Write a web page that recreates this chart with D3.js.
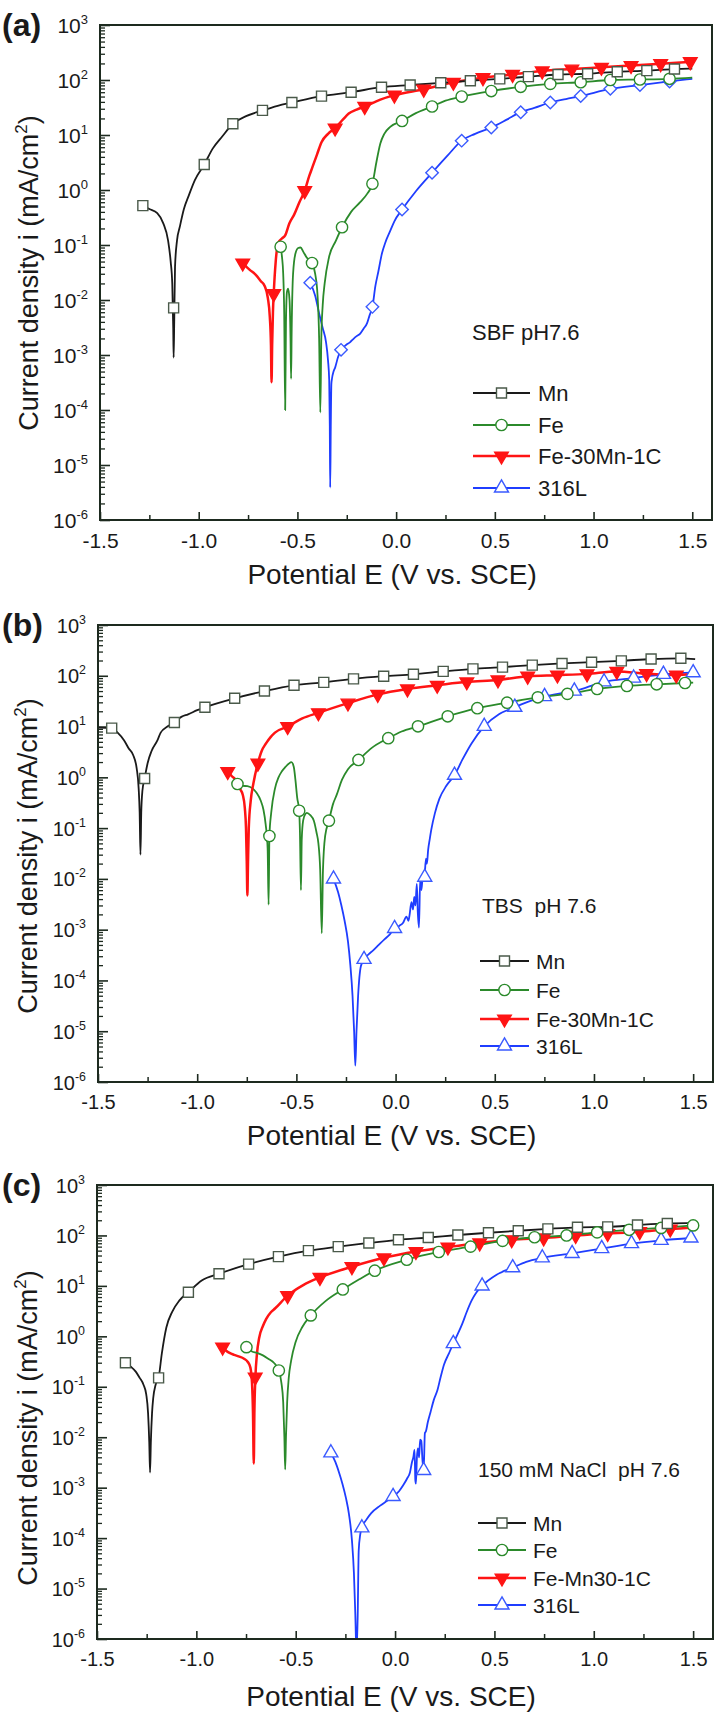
<!DOCTYPE html>
<html><head><meta charset="utf-8">
<script src="https://cdn.jsdelivr.net/npm/d3@7"></script>
<style>
body{margin:0;background:#fff}
svg{display:block}
text{font-family:"Liberation Sans",Arial,Helvetica,sans-serif;fill:#1a1a1a}
</style>
</head><body>
<svg id="chart" width="716" height="1715"></svg>
<script>
// ---------- shared tick data ----------
const xTicks = [-1.5, -1.0, -0.5, 0.0, 0.5, 1.0, 1.5];
const xTickLabels = ["-1.5", "-1.0", "-0.5", "0.0", "0.5", "1.0", "1.5"];
const xMinorTicks = [-1.25, -0.75, -0.25, 0.25, 0.75, 1.25];
const yExponents = [3, 2, 1, 0, -1, -2, -3, -4, -5, -6];
const seriesNames = ["Mn", "Fe", "Fe-30Mn-1C", "316L"];
const seriesNamesC = ["Mn", "Fe", "Fe-Mn30-1C", "316L"];
const panelLabels = ["(a)", "(b)", "(c)"];
const mediumLabels = ["SBF pH7.6", "TBS  pH 7.6", "150 mM NaCl  pH 7.6"];
const xTitle = "Potential E (V vs. SCE)";

// ---------- panel (a) SBF ----------
const aMnLine = [[-1.283,0.52],[-1.25,0.45],[-1.21,0.38],[-1.18,0.25],[-1.155,0.12],[-1.142,0.05],[-1.134,0.02],[-1.129,0.003],[-1.127,9e-4],[-1.124,0.004],[-1.12,0.04],[-1.11,0.12],[-1.095,0.22],[-1.075,0.45],[-1.05,0.8],[-1.02,1.5],[-0.972,2.9],[-0.93,5.6],[-0.88,9.5],[-0.827,16],[-0.76,22],[-0.677,28],[-0.6,34],[-0.528,39],[-0.378,51],[-0.228,60],[-0.074,74],[0.071,81],[0.226,89],[0.376,97],[0.525,105],[0.67,115],[0.82,126],[0.97,130],[1.12,141],[1.27,148],[1.41,158],[1.5,162]];
const aMnMarkE = [-1.283,-1.127,-0.972,-0.827,-0.677,-0.528,-0.378,-0.228,-0.074,0.071,0.226,0.376,0.525,0.67,0.82,0.97,1.12,1.27,1.41];
const aMnMarkI = [0.52,0.0072,2.9,16,28,39,51,60,74,81,89,97,105,115,126,130,141,148,158];

const aFeLine = [[-0.585,0.093],[-0.578,0.06],[-0.572,0.03],[-0.567,0.006],[-0.562,1e-4],[-0.558,0.004],[-0.553,0.014],[-0.547,0.016],[-0.54,0.01],[-0.535,0.002],[-0.532,3.7e-4],[-0.529,0.003],[-0.522,0.03],[-0.51,0.07],[-0.496,0.088],[-0.484,0.09],[-0.47,0.075],[-0.454,0.06],[-0.426,0.047],[-0.41,0.03],[-0.398,0.012],[-0.39,0.002],[-0.384,9e-5],[-0.379,0.002],[-0.372,0.008],[-0.362,0.02],[-0.34,0.06],[-0.305,0.12],[-0.274,0.21],[-0.228,0.4],[-0.182,0.6],[-0.147,0.85],[-0.12,1.3],[-0.1,3.2],[-0.08,7],[-0.06,10.5],[-0.03,14],[0.03,18],[0.1,25],[0.182,33],[0.25,42],[0.332,50],[0.482,63],[0.631,75],[0.781,85],[0.935,91],[1.085,100],[1.235,102],[1.385,105],[1.5,110]];
const aFeMarkE = [-0.585,-0.426,-0.274,-0.12,0.03,0.182,0.332,0.482,0.631,0.781,0.935,1.085,1.235,1.385];
const aFeMarkI = [0.093,0.047,0.21,1.3,18,33,50,63,75,85,91,100,102,105];

const aAlloyLine = [[-0.777,0.047],[-0.74,0.035],[-0.712,0.029],[-0.685,0.022],[-0.666,0.018],[-0.65,0.011],[-0.64,0.005],[-0.634,0.0015],[-0.631,3.2e-4],[-0.628,0.0015],[-0.624,0.006],[-0.62,0.013],[-0.61,0.05],[-0.597,0.11],[-0.58,0.13],[-0.562,0.15],[-0.54,0.25],[-0.516,0.36],[-0.49,0.6],[-0.463,0.97],[-0.44,1.8],[-0.424,2.6],[-0.4,4.5],[-0.378,7.4],[-0.345,10.5],[-0.309,13.4],[-0.27,19],[-0.24,24.5],[-0.2,29],[-0.159,33],[-0.08,44],[-0.009,53],[0.14,68],[0.29,91],[0.44,110],[0.59,126],[0.74,146],[0.89,158],[1.04,170],[1.19,183],[1.34,198],[1.5,215]];
const aAlloyMarkE = [-0.777,-0.62,-0.463,-0.309,-0.159,-0.009,0.14,0.29,0.44,0.59,0.74,0.89,1.04,1.19,1.34,1.49];
const aAlloyMarkI = [0.047,0.013,0.97,13.4,33,53,68,91,110,126,146,158,170,183,198,215];

const aSSLine = [[-0.435,0.0205],[-0.41,0.012],[-0.389,0.0055],[-0.372,0.0031],[-0.355,0.0017],[-0.345,8e-4],[-0.339,3.5e-4],[-0.336,5e-5],[-0.334,3.9e-6],[-0.331,5e-5],[-0.328,3e-4],[-0.325,3.7e-4],[-0.317,5e-4],[-0.309,5.9e-4],[-0.295,9e-4],[-0.279,0.00124],[-0.265,0.0014],[-0.251,0.00155],[-0.234,0.0017],[-0.217,0.00195],[-0.2,0.0022],[-0.182,0.00245],[-0.165,0.003],[-0.147,0.0038],[-0.135,0.0052],[-0.12,0.0075],[-0.105,0.018],[-0.09,0.033],[-0.072,0.07],[-0.055,0.11],[-0.03,0.18],[-0.009,0.27],[0.03,0.44],[0.1,0.95],[0.182,2.06],[0.26,4.2],[0.332,7.9],[0.4,10.5],[0.482,13.7],[0.56,19],[0.631,26],[0.7,31],[0.781,39],[0.86,45],[0.935,51],[1.085,69],[1.235,81],[1.385,94],[1.5,105]];
const aSSMarkE = [-0.435,-0.279,-0.12,0.03,0.182,0.332,0.482,0.631,0.781,0.935,1.085,1.235,1.385];
const aSSMarkI = [0.0205,0.00124,0.0075,0.44,2.06,7.9,13.7,26,39,51,69,81,94];

// ---------- panel (b) TBS ----------
const bMnLine = [[-1.5,9.5],[-1.431,9.3],[-1.4,7.5],[-1.369,5.4],[-1.345,3.7],[-1.323,2.75],[-1.305,1.5],[-1.295,0.6],[-1.29,0.2],[-1.286,0.03],[-1.282,0.2],[-1.276,0.55],[-1.265,0.95],[-1.25,1.9],[-1.23,3.3],[-1.2,5.4],[-1.184,7.6],[-1.15,10],[-1.115,12],[-1.08,15.5],[-1.046,17.4],[-1.0,21],[-0.961,24],[-0.811,36],[-0.661,50],[-0.512,65],[-0.362,74],[-0.212,87],[-0.06,98],[0.09,107],[0.24,122],[0.39,137],[0.539,148],[0.689,162],[0.839,175],[0.988,185],[1.138,197],[1.288,214],[1.438,221],[1.51,212]];
const bMnMarkE = [-1.431,-1.265,-1.115,-0.961,-0.811,-0.661,-0.512,-0.362,-0.212,-0.06,0.09,0.24,0.39,0.539,0.689,0.839,0.988,1.138,1.288,1.438];
const bMnMarkI = [9.3,0.95,12,24,36,50,65,74,87,98,107,122,137,148,162,175,185,197,214,221];

const bFeLine = [[-0.797,0.74],[-0.77,0.68],[-0.747,0.67],[-0.72,0.6],[-0.7,0.49],[-0.68,0.35],[-0.666,0.23],[-0.655,0.12],[-0.645,0.04],[-0.64,0.0031],[-0.636,0.07],[-0.627,0.2],[-0.608,0.6],[-0.59,1.0],[-0.574,1.3],[-0.555,1.6],[-0.539,1.85],[-0.525,2.0],[-0.513,1.6],[-0.505,0.9],[-0.496,0.4],[-0.486,0.22],[-0.482,0.08],[-0.477,0.006],[-0.473,0.06],[-0.466,0.14],[-0.455,0.19],[-0.447,0.2],[-0.43,0.18],[-0.412,0.14],[-0.398,0.08],[-0.389,0.05],[-0.38,0.015],[-0.372,8.5e-4],[-0.366,0.015],[-0.355,0.07],[-0.336,0.14],[-0.315,0.3],[-0.297,0.45],[-0.27,0.9],[-0.24,1.45],[-0.187,2.2],[-0.12,3.8],[-0.037,5.9],[0.03,8],[0.113,10.1],[0.263,15.9],[0.412,23],[0.562,29.5],[0.717,37.6],[0.866,44],[1.016,55],[1.166,63],[1.316,68],[1.459,72],[1.5,73]];
const bFeMarkE = [-0.797,-0.636,-0.486,-0.336,-0.187,-0.037,0.113,0.263,0.412,0.562,0.717,0.866,1.016,1.166,1.316,1.459];
const bFeMarkI = [0.74,0.07,0.22,0.14,2.2,5.9,10.1,15.9,23,29.5,37.6,44,55,63,68,72];

const bAlloyLine = [[-0.846,1.3],[-0.825,1.05],[-0.804,0.87],[-0.785,0.6],[-0.77,0.45],[-0.76,0.25],[-0.754,0.1],[-0.75,0.02],[-0.747,0.0047],[-0.744,0.02],[-0.74,0.1],[-0.73,0.35],[-0.717,0.75],[-0.694,1.9],[-0.675,3.3],[-0.654,4.6],[-0.63,6.2],[-0.608,7.6],[-0.544,10],[-0.47,14.5],[-0.389,18.7],[-0.24,29],[-0.09,43],[0.06,55],[0.21,65],[0.359,76],[0.516,83],[0.666,98],[0.816,103],[0.965,109],[1.115,122],[1.265,110],[1.415,103],[1.488,108]];
const bAlloyMarkE = [-0.846,-0.694,-0.544,-0.389,-0.24,-0.09,0.06,0.21,0.359,0.516,0.666,0.816,0.965,1.115,1.265,1.415];
const bAlloyMarkI = [1.3,1.9,10,18.7,29,43,55,65,76,83,98,103,109,122,110,103];

const bSSLine = [[-0.313,0.01],[-0.29,0.0055],[-0.274,0.0031],[-0.257,0.0015],[-0.24,5.9e-4],[-0.228,2e-4],[-0.217,5e-5],[-0.209,1e-5],[-0.203,2.1e-6],[-0.197,1e-5],[-0.189,4.9e-5],[-0.175,1.9e-4],[-0.159,2.6e-4],[-0.135,3.3e-4],[-0.113,3.9e-4],[-0.085,5e-4],[-0.055,6.5e-4],[-0.03,8e-4],[-0.005,0.00106],[0.02,0.0012],[0.037,0.00135],[0.055,0.0018],[0.065,0.0015],[0.071,0.002],[0.08,0.0035],[0.088,0.0025],[0.094,0.0044],[0.1,0.003],[0.107,0.008],[0.112,0.0022],[0.118,0.0011],[0.124,0.01],[0.13,0.006],[0.137,0.0108],[0.145,0.0102],[0.153,0.025],[0.158,0.02],[0.164,0.037],[0.172,0.06],[0.18,0.093],[0.198,0.195],[0.221,0.38],[0.256,0.68],[0.297,1.1],[0.336,2.2],[0.382,4.6],[0.447,10.1],[0.521,17.4],[0.601,24],[0.68,32],[0.751,39],[0.83,45],[0.901,50],[1.051,76],[1.2,90],[1.35,107],[1.5,115]];
const bSSMarkE = [-0.313,-0.159,-0.005,0.147,0.297,0.447,0.601,0.751,0.901,1.051,1.2,1.35,1.5];
const bSSMarkI = [0.01,2.6e-4,0.00106,0.0108,1.1,10.1,24,39,50,76,90,107,115];

// ---------- panel (c) 150 mM NaCl ----------
const cMnLine = [[-1.357,0.3],[-1.33,0.25],[-1.305,0.2],[-1.285,0.15],[-1.266,0.11],[-1.252,0.07],[-1.243,0.03],[-1.237,0.008],[-1.233,0.002],[-1.229,0.008],[-1.223,0.03],[-1.217,0.06],[-1.205,0.11],[-1.19,0.15],[-1.174,0.45],[-1.151,1.5],[-1.121,3.1],[-1.086,5.1],[-1.04,7.5],[-0.971,12.9],[-0.886,17.4],[-0.737,27],[-0.587,38],[-0.436,50],[-0.286,60],[-0.132,71],[0.017,82],[0.167,91],[0.316,102],[0.47,113],[0.62,124],[0.769,135],[0.918,145],[1.07,148],[1.22,161],[1.37,173],[1.51,178]];
const cMnMarkE = [-1.357,-1.19,-1.04,-0.886,-0.737,-0.587,-0.436,-0.286,-0.132,0.017,0.167,0.316,0.47,0.62,0.769,0.918,1.07,1.22,1.37];
const cMnMarkI = [0.3,0.15,7.5,17.4,27,38,50,60,71,82,91,102,113,124,135,145,148,161,173];

const cFeLine = [[-0.748,0.61],[-0.72,0.5],[-0.695,0.47],[-0.665,0.42],[-0.638,0.36],[-0.61,0.3],[-0.585,0.21],[-0.572,0.12],[-0.563,0.05],[-0.557,0.01],[-0.553,0.0023],[-0.549,0.01],[-0.543,0.05],[-0.535,0.15],[-0.523,0.33],[-0.5,0.78],[-0.466,1.55],[-0.424,2.6],[-0.35,5],[-0.263,8.5],[-0.18,13.5],[-0.102,20],[0.059,33],[0.22,47],[0.38,60],[0.541,78],[0.702,92],[0.863,100],[1.017,115],[1.178,129],[1.339,141],[1.5,158]];
const cFeMarkE = [-0.748,-0.585,-0.424,-0.263,-0.102,0.059,0.22,0.38,0.541,0.702,0.863,1.017,1.178,1.339,1.5];
const cFeMarkI = [0.61,0.21,2.6,8.5,20,33,47,60,78,92,100,115,129,141,158];

const cAlloyLine = [[-0.868,0.61],[-0.85,0.52],[-0.833,0.47],[-0.81,0.43],[-0.787,0.4],[-0.76,0.36],[-0.741,0.31],[-0.728,0.24],[-0.72,0.12],[-0.715,0.03],[-0.711,0.003],[-0.708,0.03],[-0.703,0.15],[-0.695,0.45],[-0.684,0.93],[-0.665,1.6],[-0.649,2.2],[-0.625,3.0],[-0.603,3.6],[-0.541,6.4],[-0.46,10.5],[-0.378,14.7],[-0.217,24],[-0.056,36],[0.105,48],[0.266,59],[0.426,71],[0.587,82],[0.748,89],[0.909,100],[1.07,109],[1.231,119],[1.385,134],[1.5,142]];
const cAlloyMarkE = [-0.868,-0.704,-0.541,-0.378,-0.217,-0.056,0.105,0.266,0.426,0.587,0.748,0.909,1.07,1.231,1.385];
const cAlloyMarkI = [0.61,0.155,6.4,14.7,24,36,48,59,71,82,89,100,109,119,134];

const cSSLine = [[-0.323,0.0049],[-0.3,0.0032],[-0.282,0.002],[-0.265,0.0012],[-0.247,6.2e-4],[-0.232,3e-4],[-0.217,9e-5],[-0.207,2e-5],[-0.2,3e-6],[-0.194,5e-7],[-0.188,3e-6],[-0.183,5.6e-5],[-0.175,1.2e-4],[-0.167,1.6e-4],[-0.145,2.3e-4],[-0.121,3.1e-4],[-0.075,4.4e-4],[-0.04,5.5e-4],[-0.01,6.7e-4],[0.02,8.5e-4],[0.04,0.0011],[0.06,0.0015],[0.075,0.002],[0.085,0.0032],[0.092,0.004],[0.098,0.0056],[0.102,0.0014],[0.105,0.0012],[0.11,0.004],[0.115,0.006],[0.121,0.004],[0.126,0.009],[0.132,0.0085],[0.138,0.0035],[0.144,0.0022],[0.15,0.012],[0.155,0.013],[0.165,0.02],[0.178,0.031],[0.195,0.055],[0.213,0.085],[0.23,0.16],[0.247,0.28],[0.27,0.45],[0.293,0.72],[0.315,1.1],[0.339,1.8],[0.36,3.0],[0.385,5.1],[0.41,7.5],[0.438,10],[0.511,16.6],[0.592,23],[0.66,30],[0.741,36],[0.891,44],[1.04,55],[1.19,69],[1.339,80],[1.489,89]];
const cSSMarkE = [-0.323,-0.167,-0.01,0.144,0.293,0.438,0.592,0.741,0.891,1.04,1.19,1.339,1.489];
const cSSMarkI = [0.0049,1.6e-4,6.7e-4,0.0022,0.72,10,23,36,44,55,69,80,89];

// ---------- drawing ----------
const svg = d3.select("#chart");
const FONT = '"Liberation Sans",Arial,Helvetica,sans-serif';
const AXIS_COLOR = "#1d2a1f";

const styles = {
  Mn:    {color:"#1a1a1a", mstroke:"#4a5a4a", fill:"#fff", sym:d3.symbolSquare, size:100, rot:0, width:1.8},
  Fe:    {color:"#2b8a2b", mstroke:"#2b8a2b", fill:"#fff", sym:d3.symbolCircle, size:100, rot:0, width:1.8},
  Alloy: {color:"#ff1414", mstroke:"#ff1414", fill:"#ff1414", sym:d3.symbolTriangle, size:80, rot:180, width:2.5},
  SS:    {color:"#1f3dff", mstroke:"#3a5aff", fill:"#fff", sym:d3.symbolTriangle, size:85, rot:0, width:1.8},
  SSd:   {color:"#1f3dff", mstroke:"#3a5aff", fill:"#fff", sym:d3.symbolSquare, size:78, rot:45, width:1.8}
};

function drawPanel(cfg) {
  const g = svg.append("g");
  const x = d3.scaleLinear().domain([-1.5, 1.6]).range([cfg.left, cfg.right]);
  const y = d3.scaleLog().domain([1e-6, 1e3]).range([cfg.bottom, cfg.top]);

  const clipId = "clip" + cfg.id;
  svg.append("clipPath").attr("id", clipId).append("rect")
    .attr("x", cfg.left).attr("y", cfg.top)
    .attr("width", cfg.right - cfg.left).attr("height", cfg.bottom - cfg.top);

  const minorY = [];
  for (let e = -6; e < 3; e++) for (let m = 2; m <= 9; m++) minorY.push(m * Math.pow(10, e));
  g.append("g").attr("transform", `translate(${cfg.left},0)`)
    .call(d3.axisLeft(y).tickValues(minorY).tickSize(-5).tickFormat(""))
    .call(s => { s.select(".domain").remove(); s.selectAll("line").attr("stroke", AXIS_COLOR).attr("stroke-width", 1.3); });
  g.append("g").attr("transform", `translate(${cfg.left},0)`)
    .call(d3.axisLeft(y).tickValues(yExponents.map(e => Math.pow(10, e))).tickSize(-10).tickFormat(""))
    .call(s => { s.select(".domain").remove(); s.selectAll("line").attr("stroke", AXIS_COLOR).attr("stroke-width", 1.6); });

  g.append("g").attr("transform", `translate(0,${cfg.bottom})`)
    .call(d3.axisBottom(x).tickValues(xMinorTicks).tickSize(-5).tickFormat(""))
    .call(s => { s.select(".domain").remove(); s.selectAll("line").attr("stroke", AXIS_COLOR).attr("stroke-width", 1.5); });
  g.append("g").attr("transform", `translate(0,${cfg.bottom})`)
    .call(d3.axisBottom(x).tickValues(xTicks).tickSize(-8).tickPadding(cfg.xLabPad).tickFormat((d, i) => xTickLabels[i]))
    .call(s => {
      s.select(".domain").remove();
      s.selectAll("line").attr("stroke", AXIS_COLOR).attr("stroke-width", 1.6);
      s.selectAll("text").attr("font-size", cfg.tickFont).attr("font-family", FONT).attr("fill", "#1a1a1a");
    });

  yExponents.forEach(e => {
    const t = g.append("text").attr("x", cfg.left - 12).attr("y", y(Math.pow(10, e)) + cfg.tickFont * 0.38)
      .attr("text-anchor", "end").attr("font-size", cfg.tickFont);
    t.append("tspan").text("10");
    t.append("tspan").attr("font-size", cfg.tickFont * 0.62).attr("dy", -cfg.tickFont * 0.45).text(String(e));
  });

  const line = d3.line().x(d => x(d[0])).y(d => y(d[1])).curve(d3.curveMonotoneX);
  const plot = g.append("g").attr("clip-path", `url(#${clipId})`);
  cfg.series.forEach(s => {
    const st = styles[s.style];
    plot.append("path").datum(s.line).attr("d", line).attr("fill", "none")
      .attr("stroke", st.color).attr("stroke-width", st.width).attr("stroke-linejoin", "round");
  });
  cfg.series.forEach(s => {
    const st = styles[s.style];
    const pts = s.markE.map((e, i) => [e, s.markI[i]]);
    plot.selectAll(null).data(pts).enter().append("path")
      .attr("d", d3.symbol().type(st.sym).size(st.size))
      .attr("transform", d => `translate(${x(d[0])},${y(d[1])}) rotate(${st.rot})`)
      .attr("fill", st.fill).attr("stroke", st.mstroke).attr("stroke-width", 1.4);
  });

  g.append("rect").attr("x", cfg.left).attr("y", cfg.top)
    .attr("width", cfg.right - cfg.left).attr("height", cfg.bottom - cfg.top)
    .attr("fill", "none").attr("stroke", AXIS_COLOR).attr("stroke-width", 2);

  g.append("text").attr("x", 2).attr("y", cfg.top + 11).attr("font-size", 32).attr("font-weight", "bold")
    .text(cfg.label);

  g.append("text").attr("x", x(0) - 4).attr("y", cfg.xTitleY).attr("text-anchor", "middle")
    .attr("font-size", 28).text(xTitle);
  const yt = g.append("text").attr("transform", `translate(${cfg.yTitleX},${cfg.yTitleCY}) rotate(-90)`)
    .attr("text-anchor", "middle").attr("font-size", 27);
  yt.append("tspan").text("Current density i (mA/cm");
  yt.append("tspan").attr("font-size", 17).attr("dy", -11).text("2");
  yt.append("tspan").attr("dy", 11).text(")");

  const L = cfg.legend;
  g.append("text").attr("x", L.titleX).attr("y", L.titleY).attr("font-size", L.font)
    .style("white-space", "pre").text(L.title);
  cfg.series.slice().sort((a, b) => a.order - b.order).forEach((s, i) => {
    const st = styles[s.legendStyle || s.style];
    const cy = L.ys[i];
    g.append("line").attr("x1", L.x0).attr("x2", L.x1).attr("y1", cy).attr("y2", cy)
      .attr("stroke", st.color).attr("stroke-width", st.width);
    g.append("path").attr("d", d3.symbol().type(st.sym).size(st.size))
      .attr("transform", `translate(${(L.x0 + L.x1) / 2},${cy}) rotate(${st.rot})`)
      .attr("fill", st.fill).attr("stroke", st.mstroke).attr("stroke-width", 1.4);
    g.append("text").attr("x", L.textX).attr("y", cy + L.font * 0.36).attr("font-size", L.font).text(s.name);
  });
}

drawPanel({
  id: "a", label: panelLabels[0], left: 100, right: 712, top: 25, bottom: 520,
  tickFont: 21, xLabPad: 13, xTitleY: 584, yTitleX: 38, yTitleCY: 273,
  legend: {title: mediumLabels[0], titleX: 472, titleY: 340, font: 22, x0: 473, x1: 530, textX: 538, ys: [393, 425, 456, 488]},
  series: [
    {name: seriesNames[3], style: "SSd", legendStyle: "SS", order: 3, line: aSSLine, markE: aSSMarkE, markI: aSSMarkI},
    {name: seriesNames[1], style: "Fe", order: 1, line: aFeLine, markE: aFeMarkE, markI: aFeMarkI},
    {name: seriesNames[2], style: "Alloy", order: 2, line: aAlloyLine, markE: aAlloyMarkE, markI: aAlloyMarkI},
    {name: seriesNames[0], style: "Mn", order: 0, line: aMnLine, markE: aMnMarkE, markI: aMnMarkI}
  ]
});

drawPanel({
  id: "b", label: panelLabels[1], left: 98, right: 713, top: 625, bottom: 1082,
  tickFont: 20, xLabPad: 13, xTitleY: 1145, yTitleX: 37, yTitleCY: 856,
  legend: {title: mediumLabels[1], titleX: 482, titleY: 913, font: 21, x0: 480, x1: 529, textX: 536, ys: [961, 990, 1019, 1046]},
  series: [
    {name: seriesNames[3], style: "SS", order: 3, line: bSSLine, markE: bSSMarkE, markI: bSSMarkI},
    {name: seriesNames[1], style: "Fe", order: 1, line: bFeLine, markE: bFeMarkE, markI: bFeMarkI},
    {name: seriesNames[2], style: "Alloy", order: 2, line: bAlloyLine, markE: bAlloyMarkE, markI: bAlloyMarkI},
    {name: seriesNames[0], style: "Mn", order: 0, line: bMnLine, markE: bMnMarkE, markI: bMnMarkI}
  ]
});

drawPanel({
  id: "c", label: panelLabels[2], left: 97, right: 713, top: 1185, bottom: 1639,
  tickFont: 20, xLabPad: 13, xTitleY: 1706, yTitleX: 37, yTitleCY: 1428,
  legend: {title: mediumLabels[2], titleX: 478, titleY: 1477, font: 21, x0: 478, x1: 526, textX: 533, ys: [1523, 1550, 1578, 1605]},
  series: [
    {name: seriesNamesC[3], style: "SS", order: 3, line: cSSLine, markE: cSSMarkE, markI: cSSMarkI},
    {name: seriesNamesC[2], style: "Alloy", order: 2, line: cAlloyLine, markE: cAlloyMarkE, markI: cAlloyMarkI},
    {name: seriesNamesC[1], style: "Fe", order: 1, line: cFeLine, markE: cFeMarkE, markI: cFeMarkI},
    {name: seriesNamesC[0], style: "Mn", order: 0, line: cMnLine, markE: cMnMarkE, markI: cMnMarkI}
  ]
});
</script>
</body></html>
